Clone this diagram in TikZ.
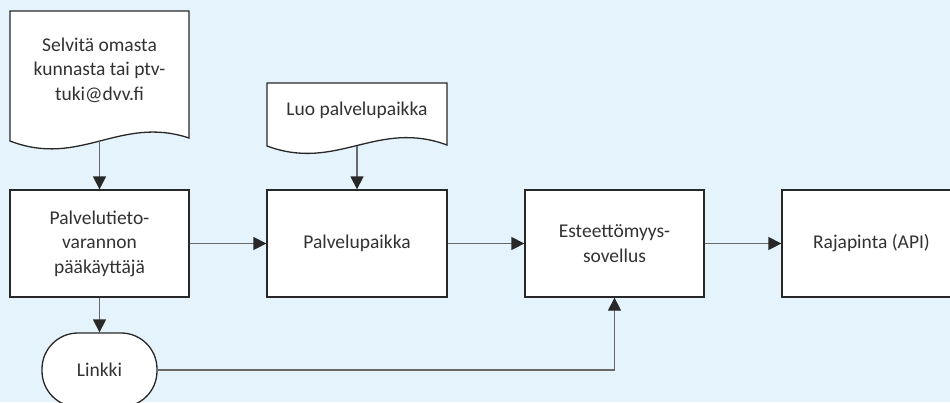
\documentclass[tikz,border=0pt]{standalone}
\usepackage{fontspec}
\setmainfont{Carlito}
\usetikzlibrary{arrows.meta, calc}
\definecolor{bgblue}{RGB}{229, 243, 252}
\definecolor{edge}{RGB}{40, 40, 40}
\definecolor{wire}{RGB}{105, 105, 105}
\definecolor{txt}{RGB}{50, 50, 50}

\begin{document}
\begin{tikzpicture}[x=1pt, y=1pt,
  box/.style={draw=edge, line width=1.3pt, fill=white, minimum width=179pt, minimum height=107pt,
    align=center, text=txt, font=\fontsize{19.5}{24.5}\selectfont, inner sep=0pt},
  terminal/.style={box, minimum width=115pt, minimum height=74pt, rounded corners=36pt},
  docline/.style={draw=edge, line width=1.3pt, fill=white},
  doctext/.style={align=center, text=txt, font=\fontsize{19.5}{24.5}\selectfont, inner sep=0pt},
  flow/.style={draw=wire, line width=1.3pt, -{Triangle[length=13pt, width=13pt, color=edge]}}]
  \useasboundingbox (0,0) rectangle (950,-402);
  \clip (0,0) rectangle (950,-402);
  \fill[bgblue] (0,0) rectangle (950,-402);

  % document shapes
  \draw[docline] (10,-11) -- (189,-11) -- (189,-138)
    .. controls (120,-115) and (80,-168) .. (10,-141) -- cycle;
  \node[doctext] (selvita) at (99.5,-70) {Selvitä omasta\\kunnasta tai ptv-\\tuki@dvv.fi};
  \coordinate (selvita-end) at (99.5,-141);

  \draw[docline] (267,-83) -- (447,-83) -- (447,-145)
    .. controls (377,-119) and (337,-172) .. (267,-146) -- cycle;
  \node[doctext] (luo) at (357,-110) {Luo palvelupaikka};
  \coordinate (luo-end) at (357,-145.5);

  % process boxes
  \node[box] (paakayttaja) at (99.5,-243.5) {Palvelutieto-\\varannon\\pääkäyttäjä};
  \node[box, minimum width=180pt] (palvelupaikka) at (357,-243.5) {Palvelupaikka};
  \node[box] (sovellus) at (614.5,-243.5) {Esteettömyys-\\sovellus};
  \node[box] (rajapinta) at (871.5,-243.5) {Rajapinta (API)};
  \node[terminal] (linkki) at (99.5,-370) {Linkki};

  % connectors
  \draw[flow] (selvita-end) -- (paakayttaja);
  \draw[flow] (luo-end) -- (palvelupaikka);
  \draw[flow] (paakayttaja) -- (palvelupaikka);
  \draw[flow] (palvelupaikka) -- (sovellus);
  \draw[flow] (sovellus) -- (rajapinta);
  \draw[flow] (paakayttaja) -- (linkki);
  \draw[flow] (linkki) -| (sovellus);
\end{tikzpicture}
\end{document}
